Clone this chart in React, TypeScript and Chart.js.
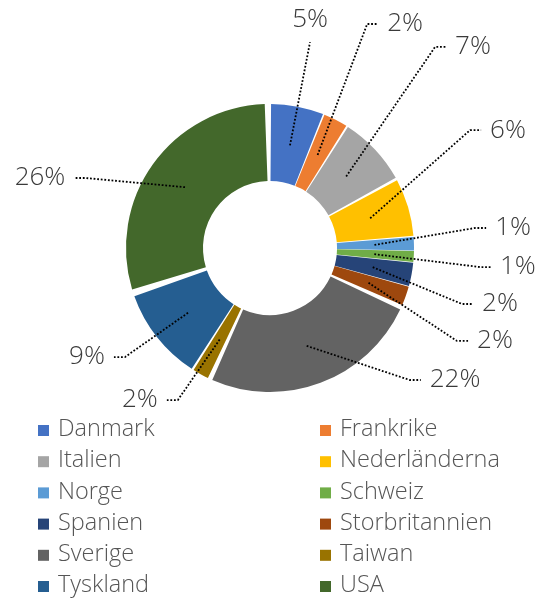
import { useEffect, useRef } from 'react';
import { Chart, registerables } from 'chart.js';

Chart.register(...registerables);

const categories = [
  'Danmark', 'Frankrike', 'Italien', 'Nederländerna', 'Norge', 'Schweiz',
  'Spanien', 'Storbritannien', 'Sverige', 'Taiwan', 'Tyskland', 'USA',
];
const values = [5.2, 2.4, 6.9, 5.7, 1.3, 1.1, 2.3, 1.9, 21.7, 1.6, 9.2, 25.7];
const colors = [
  '#4472C4', '#ED7D31', '#A5A5A5', '#FFC000', '#5B9BD5', '#70AD47',
  '#264478', '#9E480E', '#636363', '#997300', '#255E91', '#43682B',
];
// label placement relative to doughnut centre, in units of the outer radius
const labelDX = [0.286, 0.965, 1.45, 1.70, 1.736, 1.771, 1.643, 1.607, 1.322, -0.929, -1.307, -1.643];
const labelDY = [-1.628, -1.600, -1.436, -0.842, -0.143, 0.136, 0.400, 0.664, 0.943, 1.086, 0.779, -0.500];

const LABEL_FONT = '300 26px "Open Sans", sans-serif';
const LEGEND_FONT = '300 23.5px "Open Sans", sans-serif';

const labelPlugin = {
  id: 'leaderLabels',
  afterDatasetsDraw(chart: any) {
    const ctx = chart.ctx;
    const meta = chart.getDatasetMeta(0);
    ctx.save();
    ctx.font = LABEL_FONT;
    meta.data.forEach((arc: any, i: number) => {
      const { x, y, startAngle, endAngle, innerRadius, outerRadius } = arc.getProps(
        ['x', 'y', 'startAngle', 'endAngle', 'innerRadius', 'outerRadius'], true);
      const mid = (startAngle + endAngle) / 2;
      const rm = (innerRadius + outerRadius) / 2 + 3;
      const ax = x + Math.cos(mid) * rm;
      const ay = y + Math.sin(mid) * rm;
      const R = outerRadius;
      const cx = x + labelDX[i] * R;
      const cy = y + labelDY[i] * R;
      const text = Math.round(values[i]) + '%';
      const w = ctx.measureText(text).width;
      ctx.strokeStyle = '#000';
      ctx.lineWidth = 1.8;
      ctx.setLineDash([1.8, 1.8]);
      ctx.beginPath();
      ctx.moveTo(ax, ay);
      if (Math.abs(labelDX[i]) < 0.5) {
        ctx.lineTo(cx, cy + 22);
      } else if (labelDX[i] > 0) {
        const edge = cx - w / 2;
        ctx.lineTo(edge - 20, cy);
        ctx.lineTo(edge - 9, cy);
      } else {
        const edge = cx + w / 2;
        ctx.lineTo(edge + 20, cy);
        ctx.lineTo(edge + 9, cy);
      }
      ctx.stroke();
      ctx.setLineDash([]);
      ctx.fillStyle = '#3a3a3a';
      ctx.textAlign = 'center';
      ctx.textBaseline = 'middle';
      ctx.fillText(text, cx, cy);
    });
    ctx.restore();
  },
};

const legendPlugin = {
  id: 'gridLegend',
  afterDraw(chart: any) {
    const ctx = chart.ctx;
    const colX = [38, 320];
    const rowY0 = 430.5;
    const rowH = 31.2;
    const box = 11;
    ctx.save();
    ctx.font = LEGEND_FONT;
    ctx.textAlign = 'left';
    ctx.textBaseline = 'middle';
    const labels = chart.data.labels as string[];
    const bg = chart.data.datasets[0].backgroundColor as string[];
    labels.forEach((lab, i) => {
      const col = i % 2;
      const row = Math.floor(i / 2);
      const bx = colX[col];
      const by = rowY0 + row * rowH;
      ctx.fillStyle = bg[i];
      ctx.fillRect(bx, by - box / 2, box, box);
      ctx.fillStyle = '#555555';
      ctx.fillText(lab, bx + 20, by - 1);
    });
    ctx.restore();
  },
};

export default function App() {
  const ref = useRef<HTMLCanvasElement | null>(null);
  useEffect(() => {
    if (!ref.current) return;
    const chart = new Chart(ref.current, {
      type: 'doughnut',
      data: {
        labels: categories,
        datasets: [
          {
            data: values,
            backgroundColor: colors,
            borderWidth: 0,
            spacing: 8,
          } as any,
        ],
      },
      options: {
        animation: false,
        responsive: false,
        cutout: '45%',
        layout: { padding: { left: 126, right: 122, top: 104, bottom: 207 } },
        plugins: {
          legend: { display: false },
          tooltip: { enabled: false },
        },
      },
      plugins: [labelPlugin, legendPlugin],
    });
    return () => chart.destroy();
  }, []);
  return (
    <div style={{ position: 'fixed', left: 0, top: 0, width: 536, height: 599, background: '#fff' }}>
      <canvas ref={ref} width={536} height={599} style={{ display: 'block', width: 536, height: 599 }} />
    </div>
  );
}
